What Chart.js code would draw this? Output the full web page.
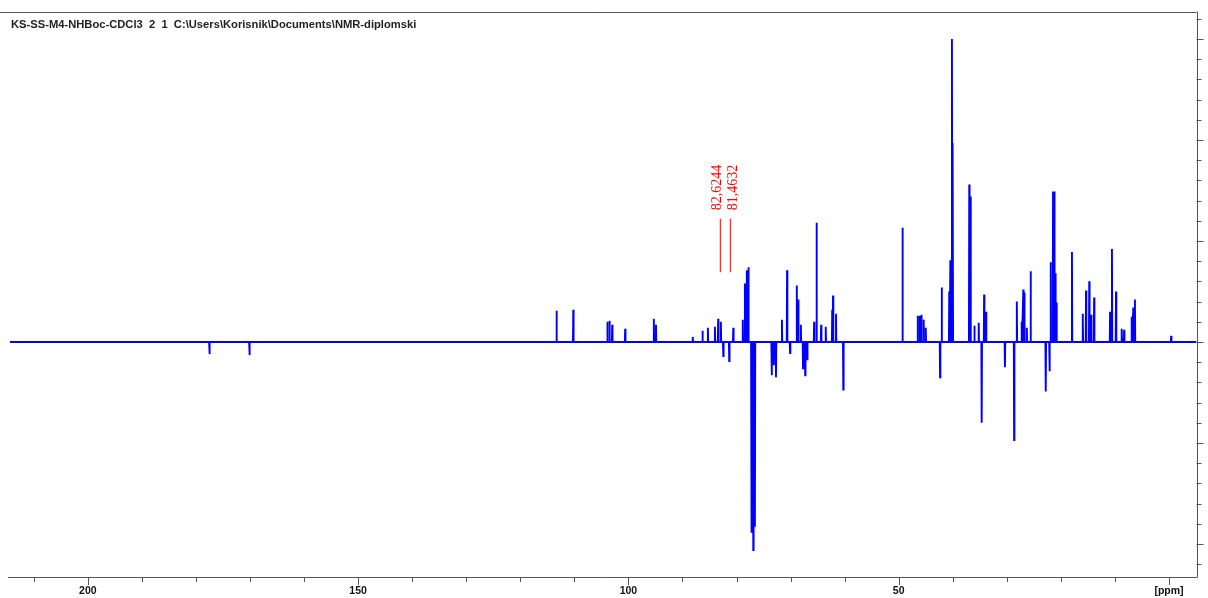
<!DOCTYPE html>
<html>
<head>
<meta charset="utf-8">
<title>KS-SS-M4-NHBoc-CDCl3</title>
<script src="https://cdn.jsdelivr.net/npm/chart.js@4.4.1/dist/chart.umd.min.js"></script>
<style>
  html, body { margin: 0; padding: 0; background: #fff; }
  #wrp { width: 1208px; height: 598px; }
</style>
</head>
<body>
<div id="wrp"><canvas id="nmr" width="1208" height="598"></canvas></div>
<script>
// peak positions (ppm) and heights (negative = inverted)
const peakPpm = [
  177.5, 170.1, 113.3, 110.2, 103.9, 103.5, 103.0, 100.6, 95.3, 94.9,
  88.1, 86.3, 85.3, 84.0, 83.4, 82.9, 82.45, 81.35, 80.6, 78.85,
  78.45, 78.1, 77.8, 77.25, 76.9, 76.6, 73.5, 73.1, 72.7, 71.6,
  70.65, 70.1, 68.85, 68.6, 68.1, 67.7, 67.3, 66.9, 65.65, 65.2,
  64.35, 63.5, 62.3, 62.15, 61.6, 60.25, 49.3, 46.5, 46.1, 45.8,
  45.4, 45.0, 42.35, 42.05, 40.65, 40.45, 40.15, 40.0, 36.95, 36.7,
  36.0, 35.2, 34.65, 34.2, 33.85, 30.35, 28.65, 28.15, 27.25, 26.95,
  26.75, 26.3, 25.6, 22.8, 22.1, 21.9, 21.45, 21.2, 21.0, 20.8,
  17.95, 15.95, 15.35, 14.75, 14.4, 13.85, 10.9, 10.55, 9.8, 8.75,
  8.3, 6.9, 6.6, 6.3, -0.4
];
const peakInt = [
  -0.12, -0.13, 0.31, 0.32, 0.20, 0.21, 0.17, 0.13, 0.23, 0.17,
  0.05, 0.11, 0.14, 0.15, 0.23, 0.20, -0.14, -0.19, 0.14, 0.22,
  0.58, 0.71, 0.74, -1.89, -2.06, -1.83, -0.33, -0.23, -0.35, 0.22,
  0.71, -0.11, 0.56, 0.42, 0.17, -0.26, -0.33, -0.18, 0.20, 1.18,
  0.17, 0.15, 0.32, 0.46, 0.28, -0.47, 1.13, 0.26, 0.26, 0.27,
  0.22, 0.14, -0.35, 0.54, 0.50, 0.81, 3.00, 1.97, 1.56, 1.44,
  0.16, 0.19, -0.80, 0.47, 0.30, -0.25, -0.97, 0.40, 0.20, 0.52,
  0.49, 0.14, 0.70, -0.49, -0.29, 0.79, 1.49, 1.49, 0.68, 0.39,
  0.89, 0.28, 0.51, 0.60, 0.27, 0.44, 0.30, 0.92, 0.50, 0.13,
  0.12, 0.25, 0.34, 0.42, 0.06
];

// picked peaks shown in red, with where their marker lines sit
const markText = ['82,6244', '81,4632'];
const markLinePpm = [83.0, 81.15];
const markTextPpm = [83.55, 80.6];

// axis ticks
const xMajor = [200, 150, 100, 50, 0];
const xLabels = ['200', '150', '100', '50', '[ppm]'];
const xMinor = [210, 190, 180, 170, 160, 140, 130, 120, 110, 90, 80, 70, 60, 40, 30, 20, 10];
const yMajor = [-2, -1, 0, 1, 2, 3];
const yMinor = [-2.2, -1.8, -1.6, -1.4, -1.2, -0.8, -0.6, -0.4, -0.2, 0.2, 0.4, 0.6, 0.8,
  1.2, 1.4, 1.6, 1.8, 2.2, 2.4, 2.6, 2.8, 3.2];

const titleText = 'KS-SS-M4-NHBoc-CDCl3  2  1  C:\\Users\\Korisnik\\Documents\\NMR-diplomski';

const X_LEFT = 214.4, X_RIGHT = -5.09;
const Y_MIN = -2.327, Y_MAX = 3.272;

// turn the peak list into a stick spectrum on a flat baseline
let peaks = peakPpm.map(function (p, i) { return { p: p, h: peakInt[i] }; })
  .sort(function (a, b) { return b.p - a.p; });
let spectrum = [{ x: X_LEFT, y: 0 }];
peaks.forEach(function (pk) {
  spectrum.push({ x: pk.p + 0.06, y: 0 }, { x: pk.p, y: pk.h }, { x: pk.p - 0.06, y: 0 });
});
spectrum.push({ x: X_RIGHT, y: 0 });

let datasets = [{
  data: spectrum,
  borderColor: '#0000ff',
  borderWidth: 1.9,
  pointRadius: 0,
  showLine: true,
  tension: 0
}];
markLinePpm.forEach(function (p) {
  datasets.push({
    data: [{ x: p, y: 0.69 }, { x: p, y: 1.22 }],
    borderColor: '#ff0000',
    borderWidth: 1,
    pointRadius: 0,
    showLine: true
  });
});

const axisColor = '#555555';

const frame = {
  id: 'frame',
  afterDraw: function (chart) {
    const ctx = chart.ctx;
    const a = chart.chartArea;
    const xs = chart.scales.x;
    const ys = chart.scales.y;
    ctx.save();
    ctx.strokeStyle = axisColor;
    ctx.lineWidth = 1;

    // top line, right frame, bottom axis
    ctx.beginPath();
    ctx.moveTo(0, Math.round(a.top) + 0.5);
    ctx.lineTo(a.right, Math.round(a.top) + 0.5);
    ctx.moveTo(Math.round(a.right) + 0.5, a.top);
    ctx.lineTo(Math.round(a.right) + 0.5, a.bottom);
    ctx.moveTo(8, Math.round(a.bottom) + 0.5);
    ctx.lineTo(a.right + 1, Math.round(a.bottom) + 0.5);
    ctx.stroke();

    // x ticks
    ctx.beginPath();
    xMinor.forEach(function (v) {
      let px = Math.round(xs.getPixelForValue(v)) + 0.5;
      ctx.moveTo(px, a.bottom);
      ctx.lineTo(px, a.bottom + 5);
    });
    xMajor.forEach(function (v) {
      let px = Math.round(xs.getPixelForValue(v)) + 0.5;
      ctx.moveTo(px, a.bottom);
      ctx.lineTo(px, a.bottom + 8);
    });
    // y ticks on the right side
    yMinor.forEach(function (v) {
      let py = Math.round(ys.getPixelForValue(v)) + 0.5;
      ctx.moveTo(a.right, py);
      ctx.lineTo(a.right + 5, py);
    });
    yMajor.forEach(function (v) {
      let py = Math.round(ys.getPixelForValue(v)) + 0.5;
      ctx.moveTo(a.right, py);
      ctx.lineTo(a.right + 7, py);
    });
    ctx.stroke();

    ctx.fillStyle = '#111';
    ctx.font = 'bold 10.5px "Liberation Sans", Arial, sans-serif';
    ctx.textAlign = 'center';
    ctx.textBaseline = 'middle';
    xMajor.forEach(function (v, i) {
      ctx.fillText(xLabels[i], xs.getPixelForValue(v), a.bottom + 14);
    });

    // header
    ctx.textAlign = 'left';
    ctx.textBaseline = 'alphabetic';
    ctx.font = 'bold 11.2px "Liberation Sans", Arial, sans-serif';
    ctx.fillStyle = '#222';
    ctx.fillText(titleText, 11, 28);

    // red peak labels, rotated
    ctx.fillStyle = '#ff0000';
    ctx.font = '14px "Liberation Serif", "Times New Roman", serif';
    ctx.textAlign = 'center';
    ctx.textBaseline = 'middle';
    markText.forEach(function (t, i) {
      ctx.save();
      ctx.translate(xs.getPixelForValue(markTextPpm[i]), ys.getPixelForValue(1.53));
      ctx.rotate(-Math.PI / 2);
      ctx.fillText(t, 0, 0);
      ctx.restore();
    });
    ctx.restore();
  }
};

new Chart(document.getElementById('nmr'), {
  type: 'scatter',
  data: { datasets: datasets },
  plugins: [frame],
  options: {
    responsive: false,
    animation: false,
    events: [],
    layout: {
      padding: { left: 10, right: 11.5, top: 11.5, bottom: 21 }
    },
    scales: {
      x: { type: 'linear', reverse: true, min: X_RIGHT, max: X_LEFT, display: false },
      y: { type: 'linear', min: Y_MIN, max: Y_MAX, display: false }
    },
    plugins: {
      legend: { display: false },
      tooltip: { enabled: false }
    }
  }
});
</script>
</body>
</html>
